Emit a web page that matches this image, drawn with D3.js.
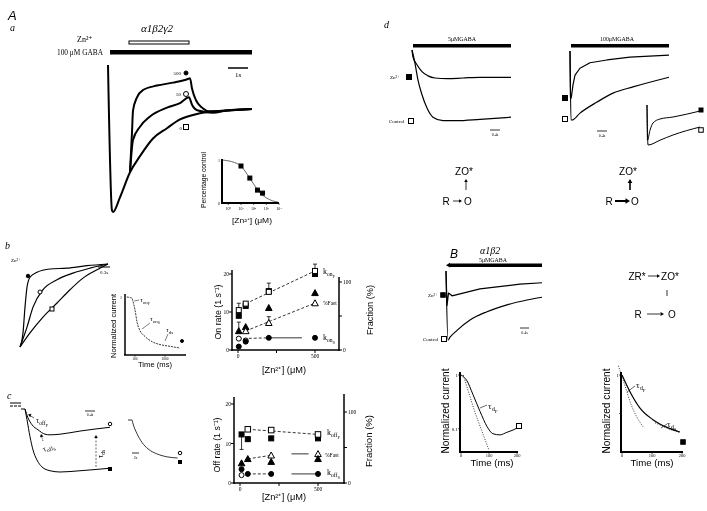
<!DOCTYPE html>
<html><head><meta charset="utf-8">
<script src="https://cdn.jsdelivr.net/npm/d3@7"></script>
<style>body{margin:0;background:#fff}svg{display:block;filter:grayscale(100%)}</style>
</head><body>
<svg id="fig" width="707" height="511"></svg>
<script>
// ================= DATA =================
// Panel Aa traces: [time (s), normalized current]
const aControl = [[0,0],[0.2,-0.99],[0.25,-1.0],[0.6,-0.90],[1.1,-0.73],[1.6,-0.62],[2.25,-0.50],[2.95,-0.43],[3.6,-0.37],[4.25,-0.34],[4.95,-0.32],[5.95,-0.31],[7.2,-0.30]];
const aZn500 = [[1.1,-0.73],[1.2,-0.46],[1.25,-0.31],[1.45,-0.22],[1.75,-0.17],[2.45,-0.14],[3.25,-0.12],[4.0,-0.095],[4.1,-0.09],[4.2,-0.16],[4.4,-0.24],[4.7,-0.29],[5.1,-0.315],[5.95,-0.31],[7.2,-0.30]];
const aZn50 = [[1.1,-0.73],[1.25,-0.51],[1.6,-0.42],[2.1,-0.35],[2.95,-0.29],[3.6,-0.26],[4.05,-0.22],[4.2,-0.27],[4.5,-0.31],[5.25,-0.325],[5.95,-0.31],[7.2,-0.30]];
// Aa inset: Zn concentration response
const inhZn = [10, 50, 200, 500];
const inhFrac = [0.86, 0.58, 0.30, 0.23];
const inhFit = [[0.32,1.0],[1,0.98],[3.2,0.94],[10,0.86],[32,0.66],[100,0.44],[316,0.24],[1000,0.12],[3162,0.05],[8300,0.02]];
const inhTicks = [1, 10, 100, 1000, 10000];
const inhTickLabels = ["10⁰","10¹","10²","10³","10⁴"];
// Panel b: onset traces (time s, normalized)
const bFilled = [[0,0],[0.075,0.17],[0.125,0.48],[0.175,0.72],[0.25,0.84],[0.425,0.9],[0.75,0.94],[1.175,0.95],[1.675,0.98],[2.2,1]];
const bOpenC = [[0,0],[0.175,0.24],[0.325,0.48],[0.575,0.69],[0.925,0.81],[1.325,0.89],[1.75,0.95],[2.2,1]];
const bOpenS = [[0,0],[0.25,0.17],[0.575,0.36],[0.925,0.53],[1.25,0.69],[1.575,0.83],[1.925,0.93],[2.2,1]];
const bInset = [[60,1.0],[180,0.99],[233,0.98],[267,0.92],[333,0.78],[400,0.57],[500,0.42],[667,0.32],[900,0.23],[1167,0.18],[1500,0.15],[1833,0.12]];
// Panel b right: on rates vs [Zn]
const onZn = [5, 50, 200, 500];
const konFOpen = [10.5, 12.2, 15.3, 20.8];
const konFOpenErr = [1.8, 0, 0, 1.8];
const konFFill = [9.0, 11.6, 15.5, 20.0];
const konFFillErr = [0, 0, 2.1, 0];
const onFastOpen = [null, 28, 40, 69];
const onFastOpenErr = [0, 0, 9, 0];
const onFastFill = [28, 34, 62, 84];
const onFastFillErr = [13, 0, 0, 0];
const konSFill = [0.9, 2.2, 3.2, 3.2];
const konSOpen = [3.0, 2.5, null, null];
// Panel c: offset traces (time s, normalized)
const cOpen = [[0,0],[0.12,-0.14],[0.28,-0.25],[0.52,-0.33],[0.8,-0.4],[1.0,-0.41],[1.4,-0.40],[2.2,-0.35],[3.4,-0.29]];
const cFill = [[0,0],[0.08,-0.17],[0.2,-0.44],[0.32,-0.65],[0.48,-0.81],[0.68,-0.92],[1.0,-0.98],[1.4,-1.0],[2.2,-0.98],[3.4,-0.94]];
const cSmall = [[0,0],[0.5,0],[0.6,-0.08],[1.1,-0.35],[1.75,-0.59],[2.5,-0.76],[3.6,-0.89],[4.9,-0.97],[6.2,-1.0]];
// Panel c right: off rates vs [Zn]
const offZn = [10, 50, 200, 500];
const koffFOpen = [null, 13.6, 13.4, 12.3];
const koffFFill = [12.3, 11.1, 11.3, 11.3];
const koffFFillErr = [-3.8, 0, 0, 0];
const offFastOpen = [null, null, 39, 41];
const offFastFill = [28, 34, 30, 34];
const koffSFill = [3.5, 2.3, 2.3, 2.3];
const koffSOpen = [2.0, null, null, null];
// Panel d traces (time s, normalized)
const d5Zn = [[0,0],[0.04,-0.1],[0.2,-0.21],[0.4,-0.31],[0.64,-0.37],[0.92,-0.4],[1.4,-0.41],[2.04,-0.4],[2.72,-0.39],[3.96,-0.39]];
const d5Ctl = [[0,0],[0.12,-0.19],[0.24,-0.43],[0.4,-0.64],[0.6,-0.83],[0.84,-0.96],[1.24,-1.01],[1.8,-1.01],[2.72,-0.99],[3.96,-0.96]];
const d100Zn = [[0,0],[0.02,-0.68],[0.05,-0.68],[0.12,-0.49],[0.2,-0.35],[0.4,-0.25],[0.8,-0.17],[1.48,-0.13],[2.4,-0.09],[3.96,-0.06]];
const d100Ctl = [[0,0],[0.04,-1.0],[0.08,-1.0],[0.4,-0.9],[1.08,-0.74],[1.72,-0.61],[2.52,-0.52],[3.96,-0.38]];
const dInsZn = [[0,0],[0.05,-0.88],[0.3,-0.63],[0.6,-0.45],[1.3,-0.35],[2.6,-0.3],[5.3,-0.15]];
const dInsCtl = [[0,0],[0.1,-1.0],[1.3,-0.88],[2.6,-0.75],[5.3,-0.55]];
// Panel B traces
const eZn = [[0,0],[0.04,-0.5],[0.1,-0.32],[0.24,-0.36],[0.68,-0.32],[1.36,-0.26],[2.04,-0.23],[2.96,-0.19],[3.84,-0.17]];
const eCtl = [[0,0],[0.08,-1.0],[0.16,-0.96],[0.44,-0.86],[0.96,-0.71],[1.64,-0.59],[2.44,-0.49],[3.24,-0.42],[3.84,-0.38]];
const eDecayL = [[0,1.0],[4,0.97],[20,0.8],[43,0.43],[68,0.21],[93,0.11],[114,0.081],[139,0.077],[164,0.086],[186,0.095],[200,0.103]];
const eFitL = [[8,1.0],[50,0.2],[100,0.04]];
const eDecayR = [[0,1.0],[27,0.78],[60,0.57],[103,0.42],[150,0.32],[193,0.26]];
const eFitRFast = [[-12,1.12],[10,0.86],[30,0.62],[50,0.45],[70,0.33]];
const eFitRSlow = [[110,0.38],[150,0.31],[195,0.25]];

// ================= HELPERS =================
const svg = d3.select("#fig");
const SERIF = "'Liberation Serif','DejaVu Serif',serif";
const SANS = "'Liberation Sans',Arial,sans-serif";

function T(x,y,s,o={}){
  const t = svg.append("text").attr("x",x).attr("y",y).attr("font-size",o.size||8)
    .attr("font-family",o.serif?SERIF:SANS).attr("text-anchor",o.anchor||"start").attr("fill","#000");
  if(o.italic) t.attr("font-style","italic");
  if(o.bold) t.attr("font-weight","bold");
  if(o.rot) t.attr("transform",`rotate(${o.rot},${x},${y})`);
  if(o.len) t.attr("textLength",o.len).attr("lengthAdjust","spacingAndGlyphs");
  if(s!==null) t.text(s);
  return t;
}
function Sub(x,y,main,sub,subsub,size,o={}){
  const t = T(x,y,null,Object.assign({size:size,serif:true},o));
  t.append("tspan").text(main);
  t.append("tspan").attr("font-size",size*0.7).attr("dy",size*0.25).text(sub);
  if(subsub) t.append("tspan").attr("font-size",size*0.55).attr("dy",size*0.2).text(subsub);
  return t;
}
function L(x1,y1,x2,y2,w=1,dash=null){
  const l = svg.append("line").attr("x1",x1).attr("y1",y1).attr("x2",x2).attr("y2",y2)
    .attr("stroke","#000").attr("stroke-width",w);
  if(dash) l.attr("stroke-dasharray",dash);
  return l;
}
function R(x,y,w,h,fill="#000",sw=0){
  return svg.append("rect").attr("x",x).attr("y",y).attr("width",w).attr("height",h)
    .attr("fill",fill).attr("stroke","#000").attr("stroke-width",sw);
}
function M(type,x,y,s=5){
  const filled = !type.startsWith("o");
  const k = filled?type:type.slice(1);
  let el;
  if(k==="sq") el = svg.append("rect").attr("x",x-s/2).attr("y",y-s/2).attr("width",s).attr("height",s);
  else if(k==="ci") el = svg.append("circle").attr("cx",x).attr("cy",y).attr("r",s/2);
  else el = svg.append("path").attr("d",`M${x},${y-s*0.55}L${x+s*0.55},${y+s*0.45}L${x-s*0.55},${y+s*0.45}Z`);
  el.attr("fill",filled?"#000":"#fff").attr("stroke","#000").attr("stroke-width",1);
  return el;
}
function trace(xs,ys,data,w=1.2,dash=null,curve=d3.curveMonotoneX){
  const p = svg.append("path").datum(data)
    .attr("d",d3.line().x(d=>xs(d[0])).y(d=>ys(d[1])).curve(curve))
    .attr("fill","none").attr("stroke","#000").attr("stroke-width",w).attr("stroke-linejoin","round");
  if(dash) p.attr("stroke-dasharray",dash);
  return p;
}
function arrowHead(x,y,angle,s=3){
  const a = angle*Math.PI/180;
  const p1 = [x - s*Math.cos(a) + s*0.6*Math.sin(a), y - s*Math.sin(a) - s*0.6*Math.cos(a)];
  const p2 = [x - s*Math.cos(a) - s*0.6*Math.sin(a), y - s*Math.sin(a) + s*0.6*Math.cos(a)];
  svg.append("path").attr("d",`M${x},${y}L${p1[0]},${p1[1]}L${p2[0]},${p2[1]}Z`).attr("fill","#000");
}

// ================= PANEL A a =================
T(8,20,"A",{size:13,italic:true});
T(10,31,"a",{size:10,italic:true,serif:true});
T(157,32,"α1β2γ2",{size:11,italic:true,serif:true,anchor:"middle"});
R(129,41,60,3,"#fff",1);
T(77,42,"Zn²⁺",{size:8,serif:true});
T(57,55,"100 μM GABA",{size:8,serif:true,len:46});
R(110,50,142,4.5);
L(228,68,248,68,1.5);
T(238,77,"1s",{size:7,serif:true,anchor:"middle"});

const xA = d3.scaleLinear().domain([0,7.2]).range([108,252]);
const yA = d3.scaleLinear().domain([0,-1]).range([65,212]);
trace(xA,yA,aControl,2);
trace(xA,yA,aZn500,2);
trace(xA,yA,aZn50,2);
T(181,75,"500",{size:5,serif:true,anchor:"end"});
M("ci",186,73,4);
T(181,96,"50",{size:5,serif:true,anchor:"end"});
M("oci",186,94,5);
T(182,130,"0",{size:5,serif:true,anchor:"end"});
M("osq",186,127,5);

// inset
const xI = d3.scaleLog().domain([Math.pow(10,-0.5),1e4]).range([222,279]);
const yI = d3.scaleLinear().domain([0,1]).range([203,160]);
trace(xI,yI,inhFit,0.6,null,d3.curveMonotoneX);
inhZn.forEach((z,i)=>M("sq",xI(z),yI(inhFrac[i]),4));
L(222,159,222,204,2); L(221,203,279,203,2);
inhTicks.forEach((t,i)=>{ L(xI(t),203,xI(t),205,0.6); T(xI(t),210,inhTickLabels[i],{size:4,serif:true,anchor:"middle"}); });
T(220,162,"1",{size:4,serif:true,anchor:"end"});
T(220,205,"0",{size:4,serif:true,anchor:"end"});
T(206,180,"Percentage control",{size:7.5,anchor:"middle",rot:-90,len:56});
T(252,223,"[Zn²⁺] (μM)",{size:6.5,anchor:"middle",len:40});

// ================= PANEL b =================
T(5,249,"b",{size:10,italic:true,serif:true});
T(11,262,"Zn²⁺",{size:5,serif:true});
const xB = d3.scaleLinear().domain([0,2.2]).range([20,108]);
const yB = d3.scaleLinear().domain([0,1]).range([347,264]);
trace(xB,yB,bFilled,1.2);
trace(xB,yB,bOpenC,1.2);
trace(xB,yB,bOpenS,1.2);
M("ci",28,276,3.5); M("oci",40,292,4); M("osq",52,309,4);
L(98,267,110,267,1);
T(104,274,"0.3s",{size:5,serif:true,anchor:"middle"});

// b inset
const xBi = d3.scaleLinear().domain([0,2000]).range([125,185]);
const yBi = d3.scaleLinear().domain([0,1]).range([355,297]);
trace(xBi,yBi,bInset,0.8,"2,1");
L(125,294,125,355,1.5); L(124,355,186,355,1.5);
T(122,299,"1",{size:4,serif:true,anchor:"end"});
[333,1333].forEach(v=>{ L(xBi(v),355,xBi(v),357,0.5); T(xBi(v),359.5,v===333?"100":"1000",{size:3.5,serif:true,anchor:"middle"}); });
T(116,326,"Normalized current",{size:7.5,anchor:"middle",rot:-90,len:64});
T(155,367,"Time (ms)",{size:7,anchor:"middle",len:34});
Sub(140,302,"τ","on","F",7); L(134,301,139,300,0.5);
Sub(150,321,"τ","on","S",7); L(150,323,142,329,0.5);
Sub(166,332,"τ","ds",null,7); L(168,334,165,341,0.5);
M("ci",182,341,3);

// b right scatter
const xOn = d3.scaleLinear().domain([0,500]).range([238,315]);
const yOn = d3.scaleLinear().domain([0,20]).range([350,274]);
const yFr = d3.scaleLinear().domain([0,100]).range([350,282]);
function scatterAxes(xs,yl,yr,ax){
  L(ax.xl,ax.top,ax.xl,ax.y0+1,1.5);
  L(ax.xr,ax.topR,ax.xr,ax.y0+1,1.5);
  L(ax.xl-0.5,ax.y0,ax.xr+0.5,ax.y0,1.5);
  [0,10,20].forEach(v=>{ L(ax.xl-3,yl(v),ax.xl,yl(v),1); T(ax.xl-3,yl(v)+2,String(v),{size:5.5,serif:true,anchor:"end"}); });
  [0,50,100].forEach(v=>{ L(ax.xr,yr(v),ax.xr+3,yr(v),1); if(v!==50) T(ax.xr+4,yr(v)+2,String(v),{size:5.5,serif:true}); });
  [0,250,500].forEach(v=>{ L(xs(v),ax.y0,xs(v),ax.y0+3,1); if(v!==250) T(xs(v),ax.y0+8,String(v),{size:5.5,serif:true,anchor:"middle"}); });
}
scatterAxes(xOn,yOn,yFr,{xl:232,xr:339,top:270,topR:277,y0:350});
function pline(xs,ys,pts,dash){
  svg.append("path").datum(pts).attr("d",d3.line().x(d=>xs(d[0])).y(d=>ys(d[1])))
    .attr("fill","none").attr("stroke","#000").attr("stroke-width",0.8).attr("stroke-dasharray",dash);
}
function err(xs,ys,x,v,e){ if(!e) return; L(xs(x),ys(v),xs(x),ys(v+e),0.8); L(xs(x)-2,ys(v+e),xs(x)+2,ys(v+e),0.8); }
pline(xOn,yOn,[[onZn[1],konFOpen[1]],[onZn[3],konFOpen[3]]],"3,2");
pline(xOn,yFr,[[onZn[1],onFastOpen[1]],[onZn[3],onFastOpen[3]]],"3,2");
pline(xOn,yOn,[[onZn[0],konSOpen[0]],[onZn[2],konSFill[2]]],"3,2");
pline(xOn,yOn,[[onZn[2],konSFill[2]],[415,konSFill[2]]],null);
onZn.forEach((z,i)=>{
  err(xOn,yOn,z,konFFill[i],konFFillErr[i]);
  M("sq",xOn(z),yOn(konFFill[i]),5);
  err(xOn,yOn,z,konFOpen[i],konFOpenErr[i]);
  M("osq",xOn(z),yOn(konFOpen[i]),5);
  err(xOn,yFr,z,onFastFill[i],onFastFillErr[i]);
  M("tri",xOn(z),yFr(onFastFill[i]),6);
  if(onFastOpen[i]!==null){ err(xOn,yFr,z,onFastOpen[i],onFastOpenErr[i]); M("otri",xOn(z),yFr(onFastOpen[i]),6); }
  if(konSOpen[i]!==null) M("oci",xOn(z),yOn(konSOpen[i]),5);
  M("ci",xOn(z),yOn(konSFill[i]),5);
});
Sub(323,274,"k","on","F",8);
T(323,305,"%Fast",{size:5.5,serif:true});
Sub(323,340,"k","on","S",8);
T(221,312,"On rate (1 s⁻¹)",{size:9.5,anchor:"middle",rot:-90,len:55});
T(373,310,"Fraction (%)",{size:9.5,anchor:"middle",rot:-90,len:50});
T(284,373,"[Zn²⁺] (μM)",{size:8.5,anchor:"middle",len:44});

// ================= PANEL c =================
T(7,399,"c",{size:10,italic:true,serif:true});
L(10,403,21,403,1); L(10,406,21,406,1,"3,1");
const xC = d3.scaleLinear().domain([0,3.4]).range([25,110]);
const yC = d3.scaleLinear().domain([0,-1]).range([409,472]);
L(21,409,25,409,1);
trace(xC,yC,cOpen,1);
trace(xC,yC,cFill,1);
M("oci",110,424,3.5); M("sq",110,469,3);
L(85,411,95,411,0.8); T(90,416,"0.4s",{size:4,serif:true,anchor:"middle"});
Sub(36,423,"τ","off","F",8); L(34,418,29,415,0.6); arrowHead(28,414.5,200,3);
Sub(44,452,"τ","off","S",8,{rot:-25});
L(43,441,41,435,0.6,"1.5,1"); arrowHead(41,434,-105,3);
L(96,467,96,437,0.6,"2,1.5"); arrowHead(96,435,-90,3);
Sub(103,458,"τ","ds",null,8,{rot:-90});
const xC2 = d3.scaleLinear().domain([0,6.5]).range([128,180]);
const yC2 = d3.scaleLinear().domain([0,-1]).range([420,458]);
trace(xC2,yC2,cSmall,0.8);
M("oci",180,453,3.5); M("sq",180,462,3);
L(132,453,139,453,0.8); T(135.5,459,"2s",{size:4,serif:true,anchor:"middle"});

// c right scatter
const xOff = d3.scaleLinear().domain([0,500]).range([240,318]);
const yOff = d3.scaleLinear().domain([0,20]).range([483,404]);
const yFr2 = d3.scaleLinear().domain([0,100]).range([483,412]);
scatterAxes(xOff,yOff,yFr2,{xl:234,xr:344,top:397,topR:394,y0:483});
pline(xOff,yOff,[[offZn[1],koffFOpen[1]],[offZn[3],koffFOpen[3]]],"3,2");
pline(xOff,yFr2,[[offZn[1],offFastFill[1]],[offZn[2],offFastOpen[2]]],"3,2");
pline(xOff,yFr2,[[330,offFastOpen[3]],[440,offFastOpen[3]]],null);
pline(xOff,yOff,[[offZn[1],koffSFill[1]],[offZn[2],koffSFill[2]]],"3,2");
pline(xOff,yOff,[[330,koffSFill[3]],[490,koffSFill[3]]],null);
offZn.forEach((z,i)=>{
  if(koffFFillErr[i]){ L(xOff(z),yOff(koffFFill[i]),xOff(z),yOff(koffFFill[i]+koffFFillErr[i]),0.8); L(xOff(z)-2,yOff(koffFFill[i]+koffFFillErr[i]),xOff(z)+2,yOff(koffFFill[i]+koffFFillErr[i]),0.8); }
  M("sq",xOff(z),yOff(koffFFill[i]),5);
  if(koffFOpen[i]!==null) M("osq",xOff(z),yOff(koffFOpen[i]),5.5);
  if(offFastOpen[i]!==null) M("otri",xOff(z),yFr2(offFastOpen[i]),6);
  M("tri",xOff(z),yFr2(offFastFill[i]),6);
  if(koffSOpen[i]!==null) M("oci",xOff(z),yOff(koffSOpen[i]),5);
  M("ci",xOff(z),yOff(koffSFill[i]),5);
});
Sub(327,435,"k","off","F",8);
T(325,457,"%Fast",{size:5.5,serif:true});
Sub(327,475,"k","off","S",8);
T(220,445,"Off rate (1 s⁻¹)",{size:9.5,anchor:"middle",rot:-90,len:55});
T(372,441,"Fraction (%)",{size:9.5,anchor:"middle",rot:-90,len:52});
T(284,500,"[Zn²⁺] (μM)",{size:8.5,anchor:"middle",len:44});

// ================= PANEL d =================
T(384,28,"d",{size:10,italic:true,serif:true});
T(462,41,"5μMGABA",{size:6.5,serif:true,anchor:"middle",len:28});
R(413,44,98,3.5);
const xD1 = d3.scaleLinear().domain([0,3.96]).range([412,511]);
const yD1 = d3.scaleLinear().domain([0,-1]).range([50,120]);
trace(xD1,yD1,d5Zn,1.2);
trace(xD1,yD1,d5Ctl,1.2);
T(390,79,"Zn²⁺",{size:5,serif:true});
M("sq",409,77,5);
T(389,123,"Control",{size:5,serif:true});
M("osq",411,121,5);
L(490,130,500,130,0.8); T(495,136,"0.4s",{size:4,serif:true,anchor:"middle"});

T(617,41,"100μMGABA",{size:6.5,serif:true,anchor:"middle",len:34});
R(571,44,98,3.5);
const xD2 = d3.scaleLinear().domain([0,3.96]).range([570,669]);
const yD2 = d3.scaleLinear().domain([0,-1]).range([51,120]);
trace(xD2,yD2,d100Zn,1.2,null,d3.curveLinear);
trace(xD2,yD2,d100Ctl,1.2);
M("sq",565,98,5); M("osq",565,119,5);
L(597,131,607,131,0.8); T(602,137,"0.4s",{size:4,serif:true,anchor:"middle"});
const xD3 = d3.scaleLinear().domain([0,5.3]).range([647,700]);
const yD3 = d3.scaleLinear().domain([0,-1]).range([105,145]);
trace(xD3,yD3,dInsZn,1);
trace(xD3,yD3,dInsCtl,1);
M("sq",701,110,4); M("osq",701,130,4.5);

// schemes
T(464,175,"ZO*",{size:10,anchor:"middle"});
L(466,190,466,181,0.8); arrowHead(466,179,-90,3);
T(446,205,"R",{size:10,anchor:"middle"});
L(453,201,459,201,0.8); arrowHead(462,201,0,3);
T(468,205,"O",{size:10,anchor:"middle"});

T(628,175,"ZO*",{size:10,anchor:"middle"});
L(630,190,630,182,1.6); arrowHead(630,179,-90,4);
T(609,205,"R",{size:10,anchor:"middle"});
L(615,201,626,201,2); arrowHead(630,201,0,4.5);
T(635,205,"O",{size:10,anchor:"middle"});

// ================= PANEL B =================
T(450,258,"B",{size:12,italic:true});
T(480,254,"α1β2",{size:10,italic:true,serif:true});
T(493,262,"5μMGABA",{size:6.5,serif:true,anchor:"middle",len:28});
R(449,263.5,93,3.5);
arrowHead(446,265.2,180,4);
const xE = d3.scaleLinear().domain([0,3.84]).range([446,542]);
const yE = d3.scaleLinear().domain([0,-1]).range([271,340]);
trace(xE,yE,eZn,1.2,null,d3.curveLinear);
trace(xE,yE,eCtl,1.2);
T(428,297,"Zn²⁺",{size:5,serif:true});
M("sq",443,295,4.5);
T(423,341,"Control",{size:5,serif:true});
M("osq",444,339,5);
L(520,328,529,328,0.8); T(524.5,334,"0.4s",{size:4,serif:true,anchor:"middle"});
// scheme
T(637,280,"ZR*",{size:10,anchor:"middle"});
L(648,276,657,276,0.8); arrowHead(660,276,0,3);
T(670,280,"ZO*",{size:10,anchor:"middle"});
L(667,290,667,296,0.8);
T(638,318,"R",{size:10,anchor:"middle"});
L(647,314,660,314,0.8); arrowHead(664,314,0,3.5);
T(672,318,"O",{size:10,anchor:"middle"});

// B bottom left (log)
const xF = d3.scaleLinear().domain([0,200]).range([461,517]);
const yF = d3.scaleLog().domain([0.037,1]).range([452,375]);
trace(xF,yF,eFitL,0.8,"1,1.5",d3.curveLinear);
trace(xF,yF,eDecayL,1);
L(460,372,460,453,2); L(459,452,518,452,2);
[0,100,200].forEach(v=>{ L(xF(v),452,xF(v),454,0.6); T(xF(v),457,String(v),{size:4.5,serif:true,anchor:"middle"}); });
L(458,yF(1),460,yF(1),0.6); T(458,377,"1",{size:5,serif:true,anchor:"end"});
L(458,yF(0.1),460,yF(0.1),0.6); T(458,431,"0.1",{size:5,serif:true,anchor:"end"});
M("osq",519,426,5);
Sub(488,409,"τ","d","F",9); L(487,405,480,408,0.6);
T(449,411,"Normalized current",{size:10,anchor:"middle",rot:-90,len:85});
T(492,466,"Time (ms)",{size:9.5,anchor:"middle",len:43});

// B bottom right (linear)
const xG = d3.scaleLinear().domain([0,200]).range([622,682]);
const yG = d3.scaleLinear().domain([0,1]).range([452,375]);
trace(xG,yG,eFitRFast,0.8,"1,1.5");
trace(xG,yG,eFitRSlow,0.8,"1,1.5");
trace(xG,yG,eDecayR,1.2);
L(621,372,621,453,2); L(620,452,683,452,2);
[0,100,200].forEach(v=>{ L(xG(v),452,xG(v),454,0.6); T(xG(v),457,String(v),{size:4.5,serif:true,anchor:"middle"}); });
[1,0.5].forEach(v=>L(619,yG(v),621,yG(v),0.6));
T(619,377,"1",{size:5,serif:true,anchor:"end"});
M("sq",683,442,4.5);
Sub(636,388,"τ","d","F",9); L(635,386,627,392,0.6);
Sub(667,427,"τ","d","S",9); L(667,424,661,428,0.6);
T(610,411,"Normalized current",{size:10,anchor:"middle",rot:-90,len:85});
T(652,466,"Time (ms)",{size:9.5,anchor:"middle",len:43});
</script>
</body></html>
